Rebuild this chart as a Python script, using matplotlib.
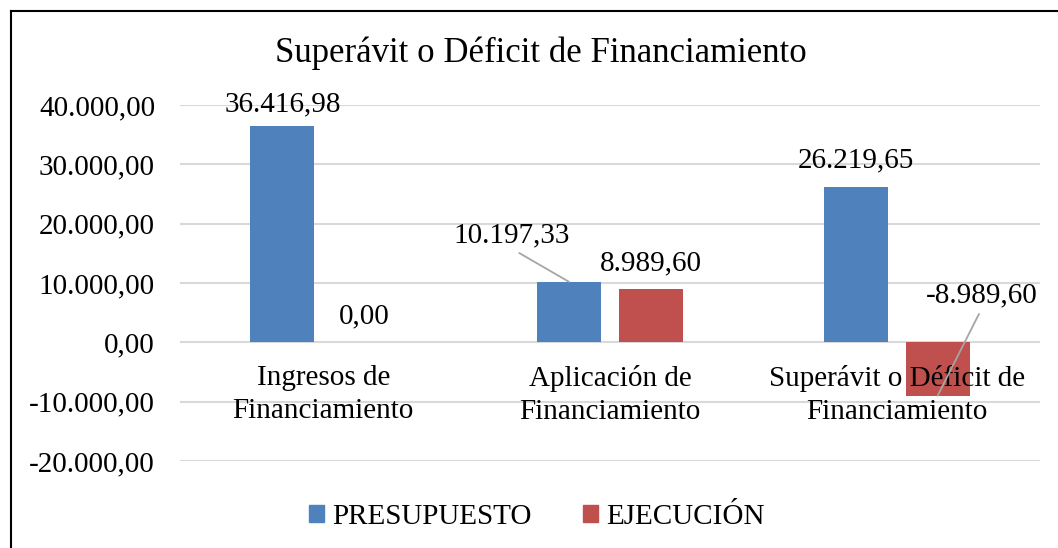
import matplotlib
matplotlib.use("Agg")
import matplotlib.pyplot as plt
import numpy as np
from matplotlib.patches import Patch
from matplotlib.lines import Line2D

categories = ["Ingresos de\nFinanciamiento", "Aplicación de\nFinanciamiento", "Superávit o Déficit de\nFinanciamiento"]
presupuesto = [36416.98, 10197.33, 26219.65]
ejecucion = [0.00, 8989.60, -8989.60]
series_names = ["PRESUPUESTO", "EJECUCIÓN"]
yticks = [-20000, -10000, 0, 10000, 20000, 30000, 40000]
title = "Superávit o Déficit de Financiamiento"

BLUE = "#4F81BD"
RED = "#C0504D"
FONT = "Liberation Serif"
FS = 21

plt.rcParams["font.family"] = [FONT, "DejaVu Serif"]

W, H = 1058, 548
fig = plt.figure(figsize=(W / 100, H / 100), dpi=100)
ax = fig.add_axes([180 / W, 87 / H, 860 / W, 356 / H])


def fmt(v):
    s = f"{abs(v):,.2f}".replace(",", "X").replace(".", ",").replace("X", ".")
    return ("-" if v < 0 else "") + s


x = np.arange(len(categories))
off = 0.143
bw = 0.223
ax.bar(x - off, presupuesto, bw, color=BLUE, zorder=3)
ax.bar(x + off, ejecucion, bw, color=RED, zorder=3)

ax.set_xlim(-0.5, 2.5)
ax.set_ylim(-20000, 40000)
ax.set_yticks(yticks)
ax.set_yticklabels([fmt(v) for v in yticks], fontsize=FS)
ax.tick_params(axis="y", length=0, pad=18)
ax.set_xticks([])
ax.grid(axis="y", color="#D9D9D9", linewidth=1.5, zorder=0)
for sp in ax.spines.values():
    sp.set_visible(False)

# category labels near zero line
for i, c in enumerate(categories):
    ax.annotate(c, xy=(i, 0), xytext=(0, -23), textcoords="offset pixels",
                ha="center", va="top", fontsize=FS, linespacing=1.32, zorder=4)

# data labels
def lab(xv, v, dx=0, dy=27, leader=False):
    kw = {}
    if leader:
        kw["arrowprops"] = dict(arrowstyle="-", color="#A6A6A6", lw=1.3,
                                relpos=(0.5, 0.0), shrinkA=2, shrinkB=0)
    ax.annotate(fmt(v), xy=(xv, v), xytext=(dx, dy), textcoords="offset pixels",
                ha="center", va="center", fontsize=FS, zorder=5, **kw)

lab(0 - off, presupuesto[0], dy=22)
lab(0 + off, ejecucion[0], dy=26)
lab(1 - off, presupuesto[1], dx=-57, dy=46, leader=True)
lab(1 + off, ejecucion[1], dy=26)
lab(2 - off, presupuesto[2], dy=26)
lab(2 + off, ejecucion[2], dx=44, dy=100, leader=True)

fig.text(541 / W, 1 - 53 / H, title, ha="center", va="center", fontsize=25)

handles = [Patch(color=BLUE), Patch(color=RED)]
fig.legend(handles, series_names, loc="center", bbox_to_anchor=(537 / W, 1 - 517 / H),
           ncol=2, frameon=False, fontsize=FS, handlelength=0.5, handleheight=0.5,
           handletextpad=0.3, columnspacing=1.75)

fig.add_artist(Line2D([11 / W, 1.01], [1 - 11 / H, 1 - 11 / H], transform=fig.transFigure,
                      color="black", lw=1.5))
fig.add_artist(Line2D([11 / W, 11 / W], [1 - 11 / H, -0.01], transform=fig.transFigure,
                      color="black", lw=1.5))

fig.savefig("out.png", dpi=100)
